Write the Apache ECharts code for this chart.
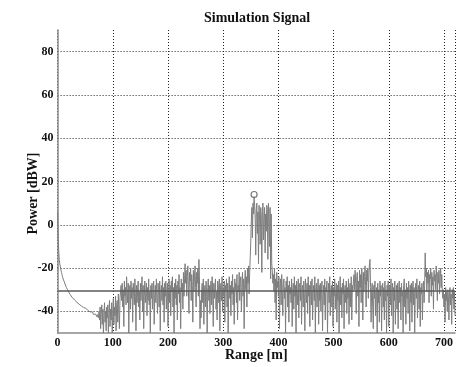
<!DOCTYPE html>
<html>
<head>
<meta charset="utf-8">
<script src="https://cdn.jsdelivr.net/npm/echarts@6/dist/echarts.min.js"></script>
<style>html,body{margin:0;padding:0;background:#fff;}#c{width:458px;height:367px;}</style>
</head>
<body>
<div id="c"></div>
<script>
// Power [dBW] samples, one per metre; each block starts at the given range (m)
const decayStart = 0;
const decay = [6,-5,-12,-16,-18,-19.5,-21,-22,-23,-24,
  -25,-25.5,-26.3,-27,-27.8,-28.3,-29,-29.5,-30,-30.5,
  -31,-31.4,-31.9,-32.3,-32.8,-33,-33.4,-33.7,-34,-34.3,
  -34.5,-34.8,-35,-35.3,-35.4,-35.8,-36,-36.1,-36.4,-36.7,
  -36.8,-37,-37.2,-37.5,-37.4,-37.8,-38,-38.2,-38.1,-38.5,
  -38.7,-38.6,-39,-39.3,-39.1,-39.5,-39.8,-39.4,-40,-40.3,
  -39.8,-40.5,-40.9,-40.2,-41,-41.4,-40.6,-41.2,-42,-41.3,
  -41.8,-42.5,-41.5,-42.2,-43];
const lowNoiseStart = 75;
const lowNoise = [-40,-44,-38,-48,-41,-37,-46,-39,-50,-42,
  -36,-45,-40,-49,-38,-43,-37,-50,-41,-35,
  -47,-39,-44,-36,-50,-40,-34,-46,-38,-42,
  -33,-49,-37,-35,-45,-32,-40,-48,-34,-31];
const noiseAStart = 115;
const noiseA = [-28,-35,-27,-38,-30,-47,-26,-33,-29,-37,
  -24,-31,-36,-27,-50,-30,-28,-39,-26,-34,
  -29,-45,-27,-32,-37,-25,-33,-49,-28,-36,
  -30,-26,-38,-31,-44,-27,-35,-29,-24,-40,
  -28,-48,-33,-26,-36,-30,-27,-42,-29,-35,
  -25,-37,-31,-50,-28,-34,-27,-39,-30,-26,
  -46,-32,-28,-36,-25,-33,-41,-27,-30,-38,
  -26,-49,-31,-28,-35,-24,-37,-29,-45,-27,
  -33,-26,-39,-30,-27,-47,-32,-25,-36,-28,
  -42,-26,-31,-24,-38,-29,-50,-27,-34,-25,
  -37,-28,-44,-26,-32,-23,-36,-29,-48,-25,
  -31,-27,-39,-22,-33];
const bumpAStart = 230;
const bumpA = [-25,-18,-27,-21,-33,-24,-19,-30,-41,-22,
  -26,-20,-35,-23,-28,-45,-21,-31,-24,-19,
  -29,-38,-22,-27,-20,-33,-16,-24,-48,-35,
  -43];
const noiseBStart = 261;
const noiseB = [-30,-27,-36,-25,-46,-31,-28,-38,-26,-33,
  -50,-29,-25,-35,-28,-41,-30,-26,-37,-24,
  -32,-47,-27,-34,-29,-25,-39,-31,-44,-26,
  -28,-36,-25,-49,-30,-27,-35,-24,-40,-29,
  -33,-26,-45,-28,-31,-25,-38,-27,-50,-30,
  -24,-34,-28,-42,-26,-32,-23,-37,-29,-46,
  -25,-30,-27,-36,-23,-44,-28,-31,-22,-35,
  -26,-24,-40,-29,-22,-33,-25,-48,-27,-21,
  -30,-24,-38,-20,-27,-19,-32,-22,-15];
const peakStart = 350;
const peak = [-8,2,8,-6,10,5,13,9,3,-14,
  7,10,-4,6,-18,9,2,-9,8,4,
  -22,6,10,-7,3,8,-13,5,-3,9,
  7,-16,10,4,-10,8,-25,5,-18];
const noiseCStart = 389;
const noiseC = [-21,-27,-23,-31,-20,-36,-25,-44,-22,-29,
  -26,-33,-24,-48,-28,-25,-37,-23,-30,-42,
  -27,-25,-34,-29,-50,-26,-31,-24,-38,-28,
  -45,-26,-32,-29,-36,-25,-47,-30,-27,-39,
  -24,-33,-28,-50,-26,-31,-37,-25,-43,-29,
  -27,-35,-24,-46,-30,-28,-38,-26,-32,-49,
  -25,-29,-36,-27,-41,-24,-33,-28,-47,-30,
  -26,-37,-25,-44,-31,-28,-35,-24,-50,-29,
  -27,-38];
const noiseDStart = 471;
const noiseD = [-31,-25,-46,-28,-35,-27,-40,-30,-26,-49,
  -33,-28,-37,-25,-44,-29,-31,-26,-50,-32,
  -27,-36,-24,-42,-30,-28,-38,-26,-47,-29,
  -33,-25,-39,-31,-27,-45,-28,-35,-26,-50,
  -30,-24,-37,-29,-43,-27,-32,-25,-48,-31,
  -28,-36,-26,-41,-29,-34,-25,-46,-30,-27,
  -38,-24,-44,-28,-31,-26];
const bumpBStart = 537;
const bumpB = [-23,-30,-21,-27,-41,-24,-22,-33,-26,-47,
  -21,-29,-23,-36,-20,-25,-44,-22,-31,-24,
  -19,-28,-38,-21,-26,-20,-34,-23,-18,-16,
  -29,-45];
const noiseEStart = 569;
const noiseE = [-30,-27,-39,-48,-28,-34,-26,-42,-31,-29,
  -50,-27,-36,-30,-45,-26,-33,-28,-49,-31,
  -27,-38,-29,-44,-26,-35,-30,-50,-28,-33,
  -26,-47,-31,-28,-37,-25,-42,-30,-27,-50,
  -29,-35,-26,-46,-32,-28,-39,-27,-48,-30,
  -26,-36,-29,-44,-27,-33,-31,-50,-28,-25,
  -38,-30,-46,-27,-34,-29,-41,-26,-32,-49,
  -28,-36,-27,-45,-30,-26,-37,-29,-50,-31,
  -27,-34,-25,-43,-30,-28,-39,-26,-47,-29,
  -32,-27,-44,-30,-26,-36,-28];
const bumpCStart = 666;
const bumpC = [-13,-24,-20,-31,-22,-27,-21,-36,-23,-25,
  -20,-33,-22,-28,-24,-39,-21,-26,-23,-30,
  -19,-25,-35,-22,-27,-21,-32,-24,-20,-29,
  -23,-31];
const tailStart = 698;
const tail = [-34,-30,-38,-32,-45,-29,-35,-31,-40,-30,
  -33,-44,-31,-29,-37,-32,-46,-30,-34,-29,
  -39,-31,-42];

const blocks = [
  [decayStart, decay], [lowNoiseStart, lowNoise], [noiseAStart, noiseA], [bumpAStart, bumpA],
  [noiseBStart, noiseB], [peakStart, peak], [noiseCStart, noiseC], [noiseDStart, noiseD],
  [bumpBStart, bumpB], [noiseEStart, noiseE], [bumpCStart, bumpC], [tailStart, tail]
];
const signal = [];
blocks.forEach(([start, vals]) => vals.forEach((v, i) => signal.push([start + i, v])));

// Detected peak and threshold level
const peakPoint = [[356, 14]];
const thresholdLevel = -30.5;

const xTicks = [0, 100, 200, 300, 400, 500, 600, 700];
const yTicks = [-40, -20, 0, 20, 40, 60, 80];

const font = '"Liberation Serif", "DejaVu Serif", serif';
const chart = echarts.init(document.getElementById('c'), null, {renderer: 'canvas'});
chart.setOption({
  animation: false,
  backgroundColor: '#ffffff',
  title: {
    text: 'Simulation Signal',
    left: 199, top: 6,
    textStyle: {fontFamily: font, fontWeight: 'bold', fontSize: 14, color: '#111'}
  },
  grid: {left: 57.6, top: 30, width: 401, height: 304, containLabel: false},
  xAxis: {
    type: 'value', min: 0, max: 720, interval: 100,
    name: 'Range [m]', nameLocation: 'middle', nameGap: 15, nameMoveOverlap: false,
    nameTextStyle: {fontFamily: font, fontWeight: 'bold', fontSize: 14, color: '#111'},
    axisLine: {show: true, onZero: false, lineStyle: {color: '#8a8a8a', width: 1.5}},
    axisTick: {show: false},
    axisLabel: {fontFamily: font, fontWeight: 'bold', fontSize: 12, color: '#111', margin: 4,
      formatter: v => xTicks.includes(v) ? String(v) : ''},
    splitLine: {show: true, lineStyle: {color: '#222', type: [1, 2], width: 1}}
  },
  yAxis: {
    type: 'value', min: -50, max: 90, interval: 10,
    name: 'Power [dBW]', nameLocation: 'middle', nameGap: 17, nameRotate: 90, nameMoveOverlap: false,
    nameTextStyle: {fontFamily: font, fontWeight: 'bold', fontSize: 14, color: '#111', padding: [0, 24, 0, 0]},
    axisLine: {show: true, onZero: false, lineStyle: {color: '#8a8a8a', width: 1.5}},
    axisTick: {show: false},
    axisLabel: {fontFamily: font, fontWeight: 'bold', fontSize: 12, color: '#111', margin: 4,
      formatter: v => yTicks.includes(v) ? String(v) : ''},
    splitLine: {show: true, lineStyle: {color: ['rgba(0,0,0,0)', '#222'], type: [1, 2], width: 1}}
  },
  series: [
    {
      type: 'line', data: signal, symbol: 'none', smooth: false, sampling: null,
      lineStyle: {color: '#7d7d7d', width: 1}, z: 2,
      markLine: {
        silent: true, symbol: 'none', label: {show: false},
        lineStyle: {color: '#5a5a5a', width: 1.5, type: 'solid'},
        data: [{yAxis: thresholdLevel}]
      }
    },
    {
      type: 'scatter', data: peakPoint, symbol: 'circle', symbolSize: 6,
      itemStyle: {color: 'rgba(255,255,255,0.5)', borderColor: '#555', borderWidth: 1.2}, z: 5
    }
  ]
});
</script>
</body>
</html>
